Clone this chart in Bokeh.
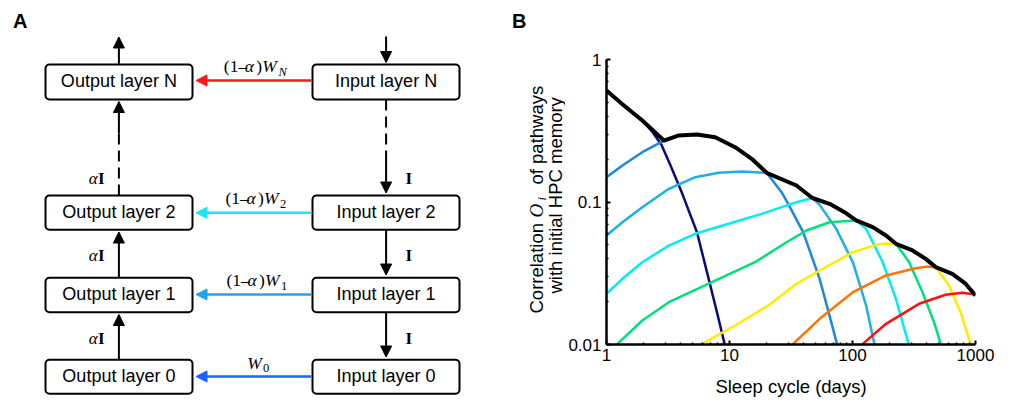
import math
from bokeh.plotting import figure
from bokeh.layouts import row
from bokeh.models import (Range1d, Arrow, NormalHead, FixedTicker,
                          CustomJSTickFormatter)
from bokeh.core.properties import value
from bokeh.embed import file_html
from bokeh.resources import INLINE

# ---------------- Panel A data ----------------
out_labels = ["Output layer 0", "Output layer 1", "Output layer 2", "Output layer N"]
in_labels = ["Input layer 0", "Input layer 1", "Input layer 2", "Input layer N"]
w_subs = ["0", "1", "2", "N"]
w_colors = ["#1a62ff", "#1ea4f2", "#1ae6f2", "#f21a1a"]

# ---------------- Panel B data ----------------
x_ticks = [1, 10, 100, 1000]
y_ticks = [0.01, 0.1, 1]
x_label = "Sleep cycle (days)"
y_label_1 = ["Correlation", "O", "i", "of pathways"]
y_label_2 = "with initial HPC memory"

navy_x = [1, 1.347, 2.02, 2.36, 2.79, 3.29, 4.12, 5.44, 6.77, 7.9, 9.12, 9.34]
navy_y = [0.606, 0.486, 0.363, 0.31, 0.253, 0.183, 0.115, 0.0614, 0.0289, 0.0169, 0.0101, 0.0091]

blue_x = [1, 1.347, 1.955, 2.928, 3.871, 5.443, 7.653, 11.11, 15.16, 20.04, 26.5, 30.0, 39.7, 54.05, 67.2, 74.7, 77.3]
blue_y = [0.1493, 0.1804, 0.2236, 0.270, 0.293, 0.2977, 0.285, 0.2424, 0.201, 0.1603, 0.1172, 0.0971, 0.0614, 0.0289, 0.01434, 0.0101, 0.0091]

lightblue_x = [1, 1.347, 1.955, 3.214, 5.274, 8.153, 12.58, 20.04, 35.03, 47.2, 54.05, 73.8, 100.7, 129, 150.5, 155.4]
lightblue_y = [0.0582, 0.0721, 0.0919, 0.1238, 0.1493, 0.1603, 0.1637, 0.1603, 0.1306, 0.1067, 0.0955, 0.0648, 0.0378, 0.01878, 0.0101, 0.0091]

cyan_x = [1, 1.347, 1.955, 3.214, 5.274, 9.82, 18.26, 35.03, 47.2, 65.1, 86.1, 107, 129, 176, 225.4, 285.6, 295.3]
cyan_y = [0.0227, 0.0289, 0.0378, 0.0495, 0.0598, 0.0703, 0.0826, 0.0997, 0.1067, 0.0971, 0.0848, 0.0742, 0.0648, 0.0378, 0.0209, 0.0101, 0.0091]

green_x = [1, 1.227, 1.955, 3.214, 7.196, 16.12, 29.08, 42.2, 65.1, 107, 146, 187.2, 225.4, 288.8, 370.7, 460, 521.2, 535.8]
green_y = [0.0087, 0.0101, 0.01474, 0.0198, 0.02736, 0.0378, 0.0522, 0.0631, 0.0721, 0.0742, 0.0666, 0.0582, 0.0509, 0.0378, 0.02328, 0.01434, 0.0101, 0.0091]

yellow_x = [5.0, 5.974, 11.11, 20.66, 35.03, 54.05, 100.7, 155.4, 187.2, 225.4, 307.6, 394, 474.9, 608.1, 756.3, 910.9, 936.6]
yellow_y = [0.0093, 0.0101, 0.01359, 0.01878, 0.02667, 0.03305, 0.04443, 0.05006, 0.05114, 0.0509, 0.0457, 0.0399, 0.0349, 0.02594, 0.01685, 0.0101, 0.0091]

orange_x = [31.6, 32.94, 54.05, 100.7, 187.2, 327.2, 400, 474.9, 647.9, 829.9, 1000]
orange_y = [0.0091, 0.0101, 0.01515, 0.02328, 0.0305, 0.03431, 0.0352, 0.0349, 0.0313, 0.0267, 0.0221]

red_x = [116.4, 121.3, 187.2, 347.9, 571.9, 780.4, 1000]
red_y = [0.0091, 0.0101, 0.01397, 0.0193, 0.02233, 0.02306, 0.02244]

envelope_x = [1, 1.347, 1.955, 2.928, 3.871, 5.443, 7.653, 11.11, 15.16, 20.04, 35.03, 47.2, 65.1, 86.1, 107, 146, 187.2, 225.4, 307.6, 394, 474.9, 647.9, 829.9, 1000]
envelope_y = [0.606, 0.486, 0.373, 0.270, 0.293, 0.2977, 0.285, 0.2424, 0.201, 0.1603, 0.1306, 0.1067, 0.0971, 0.0848, 0.0742, 0.0666, 0.0582, 0.0509, 0.0457, 0.0399, 0.0349, 0.0313, 0.0267, 0.0221]

curves = [
    (navy_x, navy_y, "#0a0a7e"),
    (blue_x, blue_y, "#1f86e0"),
    (lightblue_x, lightblue_y, "#1cb0e6"),
    (cyan_x, cyan_y, "#00ecf8"),
    (green_x, green_y, "#00e07a"),
    (yellow_x, yellow_y, "#ffec00"),
    (orange_x, orange_y, "#ff7400"),
    (red_x, red_y, "#ff1010"),
]

SANS = "Liberation Sans"
SERIF = "Liberation Serif"
H = 403          # figure height
WA = 565         # width of left canvas (diagram + y title of panel B)


def Y(py):
    """page y (from top) -> data y of the diagram canvas"""
    return H - py


# ================= Panel A (diagram) =================
pA = figure(width=WA, height=H, x_range=Range1d(0, WA), y_range=Range1d(0, H),
            output_backend="svg", toolbar_location=None, min_border=0,
            x_axis_location=None, y_axis_location=None, outline_line_color=None,
            frame_align=False)
pA.grid.visible = False

row_top = [359.3, 277.3, 195.0, 64.0]
row_bot = [393.3, 311.7, 229.3, 99.0]
row_mid = [376.0, 294.0, 212.3, 80.0]
LX0, LX1, RX0, RX1 = 45.0, 192.0, 312.0, 459.0
lc, rc = 118.4, 385.6

pA.quad(left=[LX0] * 4 + [RX0] * 4, right=[LX1] * 4 + [RX1] * 4,
        top=[Y(v) for v in row_top] * 2, bottom=[Y(v) for v in row_bot] * 2,
        fill_color="white", line_color="black", line_width=2, border_radius=4)

common = dict(text_align="left", text_baseline="middle", text_color="black")

centers = [Y((t + b) / 2 - 0.6) for t, b in zip(row_top, row_bot)]
pA.text(x=[lc] * 4 + [rc] * 4, y=centers * 2, text=out_labels + in_labels,
        text_font=value(SANS), text_font_size="18px", text_align="center",
        text_baseline="middle", text_color="black")


def arrow(x0, y0, x1, y1, color="black", lw=2.0, size=11):
    pA.add_layout(Arrow(x_start=x0, y_start=Y(y0), x_end=x1, y_end=Y(y1),
                        line_color=color, line_width=lw,
                        end=NormalHead(size=size, fill_color=color,
                                       line_color=color, line_width=1)))


# left column, upward
arrow(lc, 64, lc, 36.5)
arrow(lc, 133, lc, 101)
pA.line([lc, lc], [Y(195), Y(133)], line_color="black", line_width=2, line_dash="11 6")
arrow(lc, 277.3, lc, 231.5)
arrow(lc, 359.3, lc, 314)
# right column, downward
arrow(rc, 36, rc, 62)
pA.line([rc, rc], [Y(99), Y(150)], line_color="black", line_width=2, line_dash="11 6")
arrow(rc, 150, rc, 192.5)
arrow(rc, 229.3, rc, 274.5)
arrow(rc, 311.7, rc, 356.5)
# horizontal coloured arrows
for i in range(4):
    arrow(RX0 - 1, row_mid[i], LX1 + 3.5, row_mid[i], color=w_colors[i], lw=2.5)

# arrow labels (positions given as text baselines, converted to centres)
x0s = [None, 226.0, 225.0, 223.3]
bases = [368.0, 285.5, 203.8, 71.5]
MAIN_C = 5.9     # baseline -> centre offset, 17.5px serif
SUB_C = 0.2      # baseline of main text -> centre of subscript
up_x, up_y, up_t = [], [], []
it_x, it_y, it_t = [], [], []
sub_x, sub_y, sub_t = [], [], []
for i in range(1, 4):
    x0, b = x0s[i], bases[i]
    up_x += [x0, x0 + 32.4]; up_y += [Y(b - MAIN_C)] * 2; up_t += ["(1\u2013", ")"]
    it_x += [x0 + 21.0, x0 + 38.4]; it_y += [Y(b - MAIN_C)] * 2; it_t += ["\u03b1", "W"]
    sub_x.append(x0 + 54.6); sub_y.append(Y(b - SUB_C)); sub_t.append(w_subs[i])
it_x.append(246.7); it_y.append(Y(bases[0] - MAIN_C)); it_t.append("W")
sub_x.append(262.6); sub_y.append(Y(bases[0] - SUB_C)); sub_t.append(w_subs[0])

pA.text(x=up_x, y=up_y, text=up_t, text_font=value(SERIF), text_font_size="17.5px", **common)
pA.text(x=it_x, y=it_y, text=it_t, text_font=value(SERIF), text_font_style="italic",
        text_font_size="17.5px", **common)
pA.text(x=sub_x[:2] + sub_x[3:], y=sub_y[:2] + sub_y[3:], text=sub_t[:2] + sub_t[3:],
        text_font=value(SERIF), text_font_size="12.5px", **common)
pA.text(x=[sub_x[2]], y=[sub_y[2]], text=[sub_t[2]], text_font=value(SERIF),
        text_font_style="italic", text_font_size="12.5px", **common)

# alpha I / I labels on vertical arrows
vb = [Y(337.6), Y(255.0), Y(178.3)]
pA.text(x=[88.3] * 3, y=vb, text=["\u03b1"] * 3, text_font=value(SERIF),
        text_font_style="italic", text_font_size="17px", **common)
pA.text(x=[97.6] * 3 + [405.0] * 3, y=vb * 2, text=["I"] * 6, text_font=value(SERIF),
        text_font_style="bold", text_font_size="17px", **common)

# panel letters
pA.text(x=[12.5, 511.5], y=[Y(20.6), Y(20.6)], text=["A", "B"], text_font=value(SANS),
        text_font_style="bold", text_font_size="20px", **common)

# y-axis title of panel B (rotated, mixed fonts)
R = math.pi / 2
pA.text(x=[535.6, 535.6], y=[Y(313), Y(184)], text=[y_label_1[0], y_label_1[3]],
        text_font=value(SANS), text_font_size="18.5px", angle=R, **common)
pA.text(x=[535.6], y=[Y(217)], text=[y_label_1[1]], text_font=value(SERIF),
        text_font_style="italic", text_font_size="19px", angle=R, **common)
pA.text(x=[541.8], y=[Y(200)], text=[y_label_1[2]], text_font=value(SERIF),
        text_font_style="italic", text_font_size="12.5px", angle=R, **common)
pA.text(x=[555.4], y=[Y(293)], text=[y_label_2], text_font=value(SANS),
        text_font_size="18.5px", angle=R, **common)

# ================= Panel B (log-log plot) =================
pB = figure(width=1010 - WA, height=H, x_axis_type="log", y_axis_type="log",
            x_range=Range1d(1, 1000), y_range=Range1d(0.01, 1),
            output_backend="svg", toolbar_location=None,
            min_border_left=604 - WA, min_border_right=1010 - 975, min_border_top=59,
            min_border_bottom=H - 59 - 285, outline_line_color=None,
            frame_align=False)
pB.grid.visible = False

x_minor = [m * 10 ** k for k in range(0, 3) for m in range(2, 10)]
y_minor = [m * 10.0 ** k for k in (-2, -1) for m in range(2, 10)]
pB.xaxis.ticker = FixedTicker(ticks=x_ticks, minor_ticks=x_minor)
pB.yaxis.ticker = FixedTicker(ticks=y_ticks, minor_ticks=y_minor)
fmt = CustomJSTickFormatter(code="return String(Number(tick.toPrecision(6)));")
for ax in (pB.xaxis[0], pB.yaxis[0]):
    ax.formatter = fmt
    ax.axis_line_width = 2.5
    ax.axis_line_color = "black"
    ax.major_tick_in = 4
    ax.major_tick_out = 0
    ax.minor_tick_in = 2
    ax.minor_tick_out = 0
    ax.major_tick_line_width = 2
    ax.minor_tick_line_width = 1.5
    ax.major_tick_line_color = "black"
    ax.minor_tick_line_color = "black"
    ax.major_label_text_font = SANS
    ax.major_label_text_font_size = "17px"
    ax.major_label_text_color = "black"
pB.xaxis.major_label_standoff = 4
pB.yaxis.major_label_standoff = 5
pB.xaxis.axis_label = x_label
pB.xaxis.axis_label_text_font = SANS
pB.xaxis.axis_label_text_font_style = "normal"
pB.xaxis.axis_label_text_font_size = "18.5px"
pB.xaxis.axis_label_text_color = "black"
pB.xaxis.axis_label_standoff = 12

for xs, ys, c in curves:
    pB.line(xs, ys, line_color=c, line_width=2.5, line_join="round")
pB.line(envelope_x, envelope_y, line_color="black", line_width=4, line_join="round")

layout = row(pA, pB)
open("out.html", "w").write(file_html(layout, INLINE))
